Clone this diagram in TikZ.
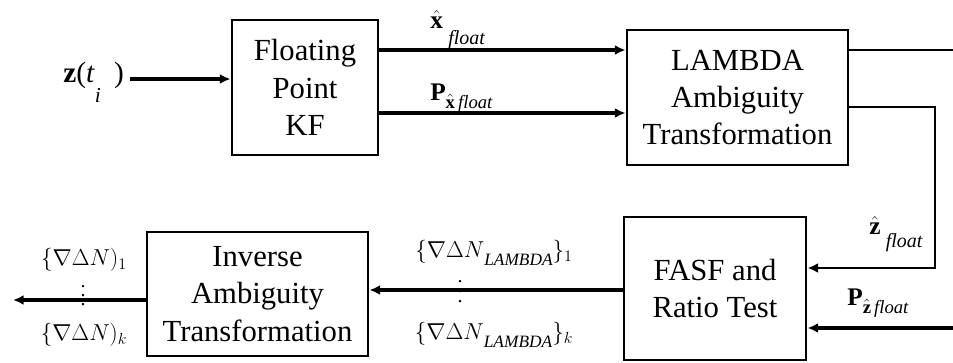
\documentclass[tikz,border=0pt]{standalone}
\usepackage{fontspec}
\usepackage{amsmath}
\setmainfont{Liberation Serif}
\usetikzlibrary{arrows.meta}
\begin{document}
\begin{tikzpicture}[x=0.75pt,y=-0.75pt,
  box/.style={draw, line width=2.2pt, align=center, inner sep=0pt, font=\fontsize{23}{28}\selectfont},
  arr/.style={line width=2.8pt, -{Latex[length=8pt,width=7.5pt]}},
  thinline/.style={line width=2pt},
  lab/.style={inner sep=0pt, font=\fontsize{19}{22}\selectfont},
  sublab/.style={inner sep=0pt, font=\fontsize{16.5}{18}\selectfont},
  dotcol/.style={inner sep=0pt, align=center}]
\useasboundingbox (0,0) rectangle (953,362);
% boxes
\node[box, minimum width=109.5pt, minimum height=101.25pt] (kf) at (305,87.5) {Floating\\Point\\KF};
\node[box, minimum width=165.75pt, minimum height=101.25pt] (lam) at (737.5,97.5) {LAMBDA\\Ambiguity\\Transformation};
\node[box, minimum width=136.5pt, minimum height=107.25pt] (fasf) at (715,288.5) {FASF and\\Ratio Test};
\node[box, minimum width=165.75pt, minimum height=93pt] (inv) at (257.5,294) {Inverse\\Ambiguity\\Transformation};
% labels
\node[lab, font=\fontsize{22}{24}\selectfont, anchor=base west] (zin) at (63,82) {\textbf{z}(\textit{t}\raisebox{-15pt}{\fontsize{16}{16}\selectfont\textit{i}}\hspace{10pt})};
\node[lab, anchor=base west] (xl) at (430,28) {$\hat{\textbf{x}}$\hspace{4pt}\raisebox{-12pt}{\fontsize{15}{15}\selectfont\textit{float}}};
\node[lab, anchor=base west] (pl) at (430,100) {\textbf{P}\raisebox{-6pt}{\fontsize{14}{14}\selectfont$\hat{\textbf{x}}$\,\textit{float}}};
\node[lab, anchor=base west] (zl) at (869,234) {$\hat{\textbf{z}}$\hspace{4pt}\raisebox{-10pt}{\fontsize{15}{15}\selectfont\textit{float}}};
\node[lab, anchor=base west] (pzl) at (847,305) {\textbf{P}\raisebox{-6pt}{\fontsize{14}{14}\selectfont$\hat{\textbf{z}}$\,\textit{float}}};
\node[sublab] (n1) at (84,260) {$\{\nabla\Delta N)_{1}$};
\node[sublab] (nk) at (84,335) {$\{\nabla\Delta N)_{k}$};
\node[dotcol, font=\fontsize{15}{6.75}\selectfont] (d1) at (83,296) {.\\.\\.};
\node[sublab] (m1) at (494,253) {$\{\nabla\Delta N\raisebox{-6pt}{\fontsize{13}{13}\selectfont\textit{LAMBDA}}\}_{1}$};
\node[sublab] (mk) at (494,335) {$\{\nabla\Delta N\raisebox{-6pt}{\fontsize{13}{13}\selectfont\textit{LAMBDA}}\}_{k}$};
\node[dotcol, font=\fontsize{15}{7.5}\selectfont] (d2) at (460,292) {.\\.\\.};
% coordinates
\coordinate (yin) at (0,79);
\coordinate (y1) at (0,50);
\coordinate (y2) at (0,113);
\coordinate (e1) at (953,50);
\coordinate (c1) at (935,107);
\coordinate (c2) at (935,268);
\coordinate (e2) at (953,328);
\coordinate (ym) at (0,290);
\coordinate (o) at (13,300);
% connectors
\draw[arr] (zin.east |- yin) ++(6,0) -- (kf.west |- yin);
\draw[arr] (kf.east |- y1) -- (lam.west |- y1);
\draw[arr] (kf.east |- y2) -- (lam.west |- y2);
\draw[thinline] (lam.east |- e1) -- (e1);
\draw[arr, line width=2.2pt] (lam.east |- c1) -- (c1) -- (c2) -- (fasf.east |- c2);
\draw[arr] (e2) -- (fasf.east |- e2);
\draw[arr] (fasf.west |- ym) -- (inv.east |- ym);
\draw[arr] (inv.west |- o) -- (o);
\end{tikzpicture}
\end{document}
